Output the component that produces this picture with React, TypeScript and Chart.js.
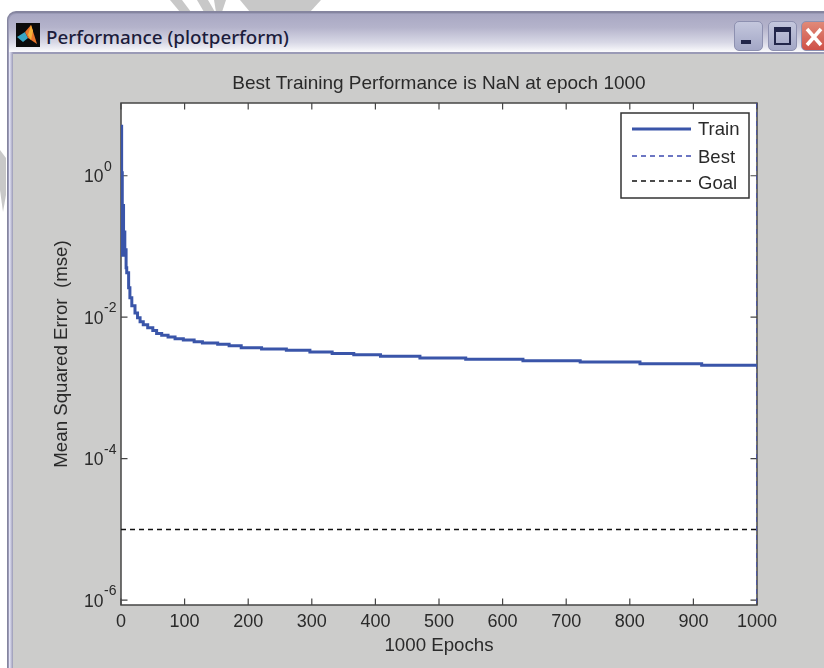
import React, { useEffect, useRef } from "react";
import { Chart, registerables } from "chart.js";

Chart.register(...registerables);

const FONT = '"Liberation Sans", Arial, sans-serif';
const titleText = "Best Training Performance is NaN at epoch 1000";
const windowTitle = "Performance (plotperform)";
const xAxisTitle = "1000 Epochs";
const yAxisTitle = "Mean Squared Error  (mse)";

const xTicks = [0, 100, 200, 300, 400, 500, 600, 700, 800, 900, 1000];
const yTickExponents = [0, -2, -4, -6];

const trainEpochs = [0, 1, 2, 3, 4, 5, 6, 7, 8, 9, 12, 14, 17, 22, 26, 30, 35, 42, 50, 56, 64, 74, 85, 98, 115, 128, 152, 170, 189, 221, 260, 297, 332, 366, 408, 470, 542, 632, 722, 816, 913, 1000];
const trainMse = [5.0, 1.1, 0.075, 0.38, 0.08, 0.16, 0.075, 0.09, 0.05, 0.0425, 0.026, 0.0188, 0.0145, 0.0115, 0.0098, 0.0086, 0.0078, 0.0071, 0.0065, 0.0059, 0.00556, 0.00526, 0.00497, 0.00476, 0.00451, 0.00432, 0.00414, 0.00396, 0.00371, 0.00355, 0.0034, 0.00322, 0.00308, 0.00295, 0.0028, 0.00265, 0.00254, 0.00242, 0.00232, 0.0022, 0.0021, 0.0021];

const bestEpochs = [1000, 1000];
const bestMse = [10.7, 8.6e-7];
const goalEpochs = [0, 1000];
const goalMse = [1e-5, 1e-5];

const yMin = 8.55e-7;
const yMax = 10.67;

const TRAIN_COLOR = "#3a55a9";
const AXIS_COLOR = "#454545";
const TEXT_COLOR = "#2a2a2a";

const toPoints = (xs: number[], ys: number[]) => xs.map((x, i) => ({ x, y: ys[i] }));

const matlabFrame = {
  id: "matlabFrame",
  beforeDatasetsDraw(chart: any) {
    const { ctx, chartArea: a, scales } = chart;
    ctx.save();
    ctx.fillStyle = "#ffffff";
    ctx.fillRect(a.left, a.top, a.width, a.height);
    ctx.strokeStyle = AXIS_COLOR;
    ctx.lineWidth = 1.5;
    ctx.strokeRect(a.left, a.top, a.width, a.height);
    ctx.lineWidth = 1.2;
    const len = 6.5;
    ctx.beginPath();
    scales.x.ticks.forEach((t: any) => {
      const px = scales.x.getPixelForValue(t.value);
      ctx.moveTo(px, a.bottom);
      ctx.lineTo(px, a.bottom - len);
      ctx.moveTo(px, a.top);
      ctx.lineTo(px, a.top + len);
    });
    scales.y.ticks.forEach((t: any) => {
      const py = scales.y.getPixelForValue(t.value);
      ctx.moveTo(a.left, py);
      ctx.lineTo(a.left + len, py);
      ctx.moveTo(a.right, py);
      ctx.lineTo(a.right - len, py);
    });
    ctx.stroke();
    // y tick labels with a raised exponent
    ctx.fillStyle = TEXT_COLOR;
    ctx.textBaseline = "alphabetic";
    ctx.textAlign = "left";
    scales.y.ticks.forEach((t: any) => {
      const py = scales.y.getPixelForValue(t.value);
      const exp = String(Math.round(Math.log10(t.value)));
      ctx.font = `17.5px ${FONT}`;
      ctx.fillText("10", 84, py + 6.5);
      ctx.font = `14px ${FONT}`;
      ctx.fillText(exp, 104, py - 5);
    });
    ctx.restore();
  },
  afterDraw(chart: any) {
    const { ctx, data } = chart;
    ctx.save();
    ctx.fillStyle = "#ffffff";
    ctx.strokeStyle = "#333333";
    ctx.lineWidth = 1.5;
    ctx.fillRect(621, 113, 128, 85);
    ctx.strokeRect(621, 113, 128, 85);
    const sampleRows = [129, 156, 181];
    const textRows = [129, 157, 183];
    ctx.font = `18.5px ${FONT}`;
    ctx.textBaseline = "middle";
    ctx.textAlign = "left";
    data.datasets.forEach((ds: any, i: number) => {
      ctx.beginPath();
      ctx.strokeStyle = ds.borderColor;
      ctx.lineWidth = ds.borderWidth;
      ctx.setLineDash(ds.borderDash || []);
      ctx.moveTo(632, sampleRows[i]);
      ctx.lineTo(691, sampleRows[i]);
      ctx.stroke();
      ctx.setLineDash([]);
      ctx.fillStyle = TEXT_COLOR;
      ctx.fillText(ds.label, 698, textRows[i] + 1);
    });
    ctx.restore();
  },
};

export default function App() {
  const ref = useRef<HTMLCanvasElement | null>(null);
  useEffect(() => {
    if (!ref.current) return;
    const chart = new Chart(ref.current, {
      type: "line",
      data: {
        datasets: [
          { label: "Train", data: toPoints(trainEpochs, trainMse), borderColor: TRAIN_COLOR, borderWidth: 3, stepped: true, pointRadius: 0 },
          { label: "Best", data: toPoints(bestEpochs, bestMse), borderColor: "#3d49b0", borderWidth: 1.4, borderDash: [5, 4], pointRadius: 0 },
          { label: "Goal", data: toPoints(goalEpochs, goalMse), borderColor: "#111111", borderWidth: 1.4, borderDash: [5, 4], pointRadius: 0 },
        ],
      } as any,
      options: {
        responsive: false,
        animation: false,
        layout: { padding: { left: 0, right: 67, top: 0, bottom: 0 } },
        plugins: {
          legend: { display: false },
          tooltip: { enabled: false },
          title: {
            display: true,
            fullSize: false,
            text: titleText,
            color: TEXT_COLOR,
            font: { family: FONT, size: 19, weight: "normal" },
            padding: { top: 72.6, bottom: 7.6 },
          },
        },
        scales: {
          x: {
            type: "linear",
            min: 0,
            max: 1000,
            grid: { display: false },
            border: { display: false },
            afterBuildTicks: (s: any) => {
              s.ticks = xTicks.map((value) => ({ value }));
            },
            afterFit: (s: any) => {
              s.height = 63;
            },
            ticks: { color: TEXT_COLOR, font: { family: FONT, size: 18 }, maxRotation: 0, padding: -2, autoSkip: false, callback: (v: any) => String(v) },
            title: { display: true, text: xAxisTitle, color: TEXT_COLOR, font: { family: FONT, size: 18.7 }, padding: { top: 0, bottom: 11 } },
          },
          y: {
            type: "logarithmic",
            min: yMin,
            max: yMax,
            grid: { display: false },
            border: { display: false },
            afterBuildTicks: (s: any) => {
              s.ticks = yTickExponents.map((e) => ({ value: Math.pow(10, e) }));
            },
            afterFit: (s: any) => {
              s.width = 121;
            },
            ticks: { display: false, callback: (v: any) => `1e${Math.round(Math.log10(v))}` },
            title: { display: true, text: yAxisTitle, color: TEXT_COLOR, font: { family: FONT, size: 18.7 }, padding: { top: 51, bottom: 0 } },
          },
        },
      } as any,
      plugins: [matlabFrame],
    });
    return () => chart.destroy();
  }, []);

  const wm = (pts: string) => (
    <div style={{ position: "absolute", inset: 0, background: "#c8c8c8", clipPath: `polygon(${pts})` }} />
  );
  const button = (left: number, width: number, bg: string, child: React.ReactNode) => (
    <div style={{ position: "absolute", left, top: 21, width, height: 30, borderRadius: 5, background: bg, border: "1px solid #8d90b0", boxSizing: "border-box" }}>{child}</div>
  );

  return (
    <div style={{ position: "absolute", left: 0, top: 0, width: 824, height: 668, overflow: "hidden", background: "#fff" }}>
      {wm("170px 0, 182px 0, 191px 12px, 180px 12px")}
      {wm("197px 0, 208px 0, 215px 12px, 204px 12px")}
      {wm("214px 0, 226px 0, 222px 12px, 216px 12px")}
      {wm("240px 0, 321px 0, 310px 12px, 250px 12px")}
      {wm("0 150px, 6px 158px, 6px 195px, 3px 212px, 0 190px")}
      <div style={{ position: "absolute", left: 7, top: 11, width: 817, height: 657, borderTopLeftRadius: 9, background: "#9a9ab6", borderTop: "2px solid #85859f", borderLeft: "1px solid #85859f", boxSizing: "border-box" }} />
      <div style={{ position: "absolute", left: 9, top: 14, width: 815, height: 38, borderTopLeftRadius: 7, background: "linear-gradient(#a9a8c3 0%, #b4b3cb 35%, #d8d8e6 75%, #fbfbfd 100%)" }} />
      <div style={{ position: "absolute", left: 9, top: 52, width: 4, height: 616, background: "linear-gradient(90deg,#eef,#9a9ab6)" }} />
      <div style={{ position: "absolute", left: 13, top: 54, width: 811, height: 614, background: "#cccccb" }} />
      <svg style={{ position: "absolute", left: 16, top: 23 }} width="24" height="24" viewBox="0 0 24 24">
        <rect width="24" height="24" fill="#0b0b0b" />
        <polygon points="1,14 9,9 12,15 7,19" fill="#3aa6c4" />
        <polygon points="9,9 15,2 21,21 15,17 12,15" fill="#e8742a" />
        <polygon points="15,2 17,8 15,17 12,12" fill="#f5b13a" />
      </svg>
      <div style={{ position: "absolute", left: 46, top: 24, fontFamily: '"Noto Sans", sans-serif', fontSize: 18.8, lineHeight: "26px", color: "#1c1c3c", fontWeight: 500, whiteSpace: "nowrap" }}>{windowTitle}</div>
      {button(734, 29, "linear-gradient(#c4c7dd,#a3a7c6)", <div style={{ position: "absolute", left: 6, top: 18, width: 10, height: 4, background: "#22264a" }} />)}
      {button(768, 29, "linear-gradient(#c4c7dd,#a3a7c6)", <div style={{ position: "absolute", left: 5, top: 5, width: 17, height: 18, border: "2px solid #22264a", borderTopWidth: 5, boxSizing: "border-box" }} />)}
      {button(801, 30, "linear-gradient(#e08a78,#cf5048)", (
        <svg style={{ position: "absolute", left: 2, top: 5 }} width="20" height="20"><path d="M3 2 L17 18 M17 2 L3 18" stroke="#fff" strokeWidth="3.5" /></svg>
      ))}
      <canvas ref={ref} width={824} height={668} style={{ position: "absolute", left: 0, top: 0, display: "block" }} />
    </div>
  );
}
